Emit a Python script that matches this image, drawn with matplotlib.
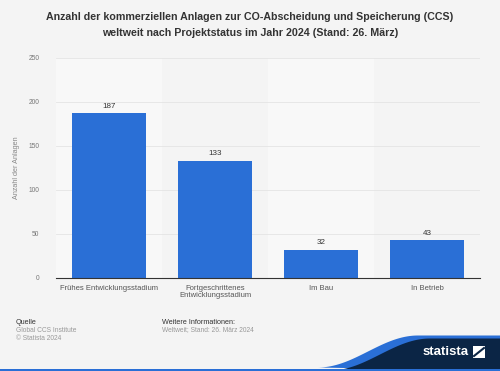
import matplotlib
matplotlib.use('Agg')
import matplotlib.pyplot as plt
import numpy as np

plt.rcParams['font.family'] = ['Liberation Sans', 'DejaVu Sans']

categories = ["Frühes Entwicklungsstadium", "Fortgeschrittenes\nEntwicklungsstadium",
              "Im Bau", "In Betrieb"]
values = [187, 133, 32, 43]
yticks = [0, 50, 100, 150, 200, 250]

bar_color = '#2a6fd6'
bg = '#f4f4f4'

fig = plt.figure(figsize=(5, 3.71), dpi=100, facecolor=bg)
ax = fig.add_axes([0.112, 0.2507, 0.848, 0.593])
ax.set_facecolor('#f7f7f7')

x = np.arange(len(categories))
# alternating column bands, very subtle
for i in x:
    ax.axvspan(i - 0.5, i + 0.5, color='#f8f8f8' if i % 2 == 0 else '#f4f4f4', zorder=0, lw=0)

for t in yticks[1:]:
    ax.axhline(t, color='#e4e4e4', lw=0.6, zorder=1)

bars = ax.bar(x, values, width=0.69, color=bar_color, zorder=2)
for xi, v in zip(x, values):
    ax.text(xi, v + 4, str(v), ha='center', va='bottom', fontsize=5.8, color='#333333')

ax.set_xlim(-0.5, 3.5)
ax.set_ylim(0, 250)
ax.set_yticks(yticks)
ax.set_yticklabels([str(t) for t in yticks], fontsize=4.8, color='#777777')
ax.set_xticks(x)
ax.set_xticklabels(categories, fontsize=5.5, color='#555555', linespacing=1.0)
ax.tick_params(axis='both', length=0, pad=5)
ax.tick_params(axis='y', pad=12)
for s in ['top', 'right', 'left']:
    ax.spines[s].set_visible(False)
ax.spines['bottom'].set_color('#333333')
ax.spines['bottom'].set_linewidth(0.8)
ax.set_ylabel("Anzahl der Anlagen", fontsize=5.2, color='#888888', labelpad=6)

fig.text(0.5, 0.955, "Anzahl der kommerziellen Anlagen zur CO-Abscheidung und Speicherung (CCS)",
         ha='center', va='center', fontsize=7.65, fontweight='bold', color='#333333')
fig.text(0.5, 0.91, "weltweit nach Projektstatus im Jahr 2024 (Stand: 26. März)",
         ha='center', va='center', fontsize=7.65, fontweight='bold', color='#333333')

# footer
fig.text(16 / 500, 1 - 322 / 371, "Quelle", fontsize=5.2, color='#333333', va='center')
fig.text(16 / 500, 1 - 330 / 371, "Global CCS Institute", fontsize=4.8, color='#999999', va='center')
fig.text(16 / 500, 1 - 338 / 371, "© Statista 2024", fontsize=4.8, color='#999999', va='center')
fig.text(162 / 500, 1 - 322 / 371, "Weitere Informationen:", fontsize=5.2, color='#333333', va='center')
fig.text(162 / 500, 1 - 330 / 371, "Weltweit; Stand: 26. März 2024", fontsize=4.8, color='#999999', va='center')

# statista swoosh
ov = fig.add_axes([0, 0, 1, 1], facecolor='none')
ov.set_xlim(0, 500)
ov.set_ylim(371, 0)
ov.axis('off')
t = np.linspace(0, 1, 60)
sx = 318 + 100 * t
sy = 369 - 32 * (0.5 - 0.5 * np.cos(np.pi * t))
bx = np.concatenate([sx, [500, 500]])
by = np.concatenate([sy - 1.5, [335.5, 371]])
ov.fill(bx, by, color='#2a6fd6', lw=0)
dx = np.concatenate([sx + 12, [500, 500]])
dy = np.concatenate([sy + 1.5, [338.5, 371]])
ov.fill(dx, dy, color='#0b2545', lw=0)
ov.fill([0, 500, 500, 0], [368.5, 368.5, 371, 371], color='#2a6fd6', lw=0)
ov.text(446, 352, "statista", ha='center', va='center', fontsize=9.5,
        fontweight='bold', color='white')
ov.fill([473, 485, 485, 473], [346, 346, 358, 358], color='white', lw=0)
ov.plot([474, 484], [356, 348], color='#0b2545', lw=1.5)

fig.savefig('out.png', dpi=100, facecolor=bg)
